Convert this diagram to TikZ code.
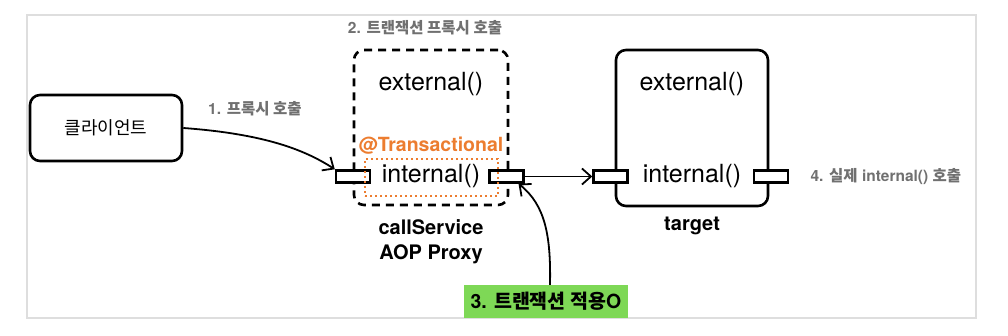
\documentclass[tikz,border=0pt]{standalone}
\usepackage{fontspec}
\setmainfont{TeX Gyre Heros}
\newfontfamily\kr{Noto Sans CJK KR}
\usetikzlibrary{arrows.meta}
\definecolor{notegray}{RGB}{112,112,112}
\definecolor{txorange}{RGB}{236,125,48}
\definecolor{okgreen}{RGB}{126,216,86}
\definecolor{framegray}{RGB}{222,222,222}
\begin{document}
\begin{tikzpicture}[x=1pt, y=-1pt, >={Straight Barb[length=9pt,width=16pt]},
    box/.style={draw, line width=2.6pt, rounded corners=10pt, inner sep=0pt},
    port/.style={draw, line width=2.4pt, fill=white, minimum width=34pt, minimum height=12pt, inner sep=0pt},
    meth/.style={font=\fontsize{25}{28}\selectfont},
    note/.style={text=notegray, font=\bfseries\fontsize{15.5}{17}\selectfont},
    boxname/.style={font=\bfseries\fontsize{20}{25}\selectfont, align=center},
    call/.style={->, line width=1.8pt}]
  \useasboundingbox (0,0) rectangle (1008,336);
  \draw[framegray, line width=1.5pt] (27,15) rectangle (976,318);
  % client
  \node[box, minimum width=152pt, minimum height=66pt] (client) at (106,128) {};
  \node (clienttxt) at (106,128) {\kr\fontsize{18}{20}\selectfont 클라이언트};
  \node[note] (step1) at (255,109) {1. {\kr 프록시 호출}};
  % proxy
  \node[note] (step2) at (425,28) {2. {\kr 트랜잭션 프록시 호출}};
  \node[box, dashed, dash pattern=on 8pt off 6pt, minimum width=154pt, minimum height=155pt] (proxy) at (431,127.5) {};
  \node[meth] (pext) at (431,84) {external()};
  \node[text=txorange, font=\bfseries\fontsize{19.5}{22}\selectfont] (tx) at (431,146) {@Transactional};
  \node[port] (pl) at (353,176.5) {};
  \node[port] (pr) at (506.5,176.5) {};
  \node[draw=txorange, line width=2.4pt, dash pattern=on 2.4pt off 2.6pt, minimum width=133pt, minimum height=37pt, inner sep=0pt] (txbox) at (431.5,177.5) {};
  \node[meth] (pint) at (431,176) {internal()};
  \node[boxname] (pname) at (431,242) {callService\\AOP Proxy};
  % target
  \node[box, minimum width=152pt, minimum height=156pt] (target) at (692,128) {};
  \node[meth] (text) at (692,84) {external()};
  \node[meth] (tint) at (692,176) {internal()};
  \node[port] (tl) at (610.5,176.5) {};
  \node[port] (tr) at (771,176.5) {};
  \node[boxname] (tname) at (692,226) {target};
  \node[note, anchor=west] (step4) at (807,177) {4. {\kr 실제} internal() {\kr 호출}};
  % applied
  \node[fill=okgreen, minimum width=164pt, minimum height=33pt, inner sep=0pt,
        font=\bfseries\fontsize{19.5}{22}\selectfont] (step3) at (546,301.5) {3. {\kr 트랜잭션 적용}O};
  \draw[call] (client.east) .. controls (265,134) and (305,150) .. (pl.north west);
  \draw[call] (pr.east) -- (tl.west);
  \draw[call] ([xshift=4pt]step3.north) .. controls (551,235) and (545,205) .. ([xshift=12pt]pr.south);
\end{tikzpicture}
\end{document}
